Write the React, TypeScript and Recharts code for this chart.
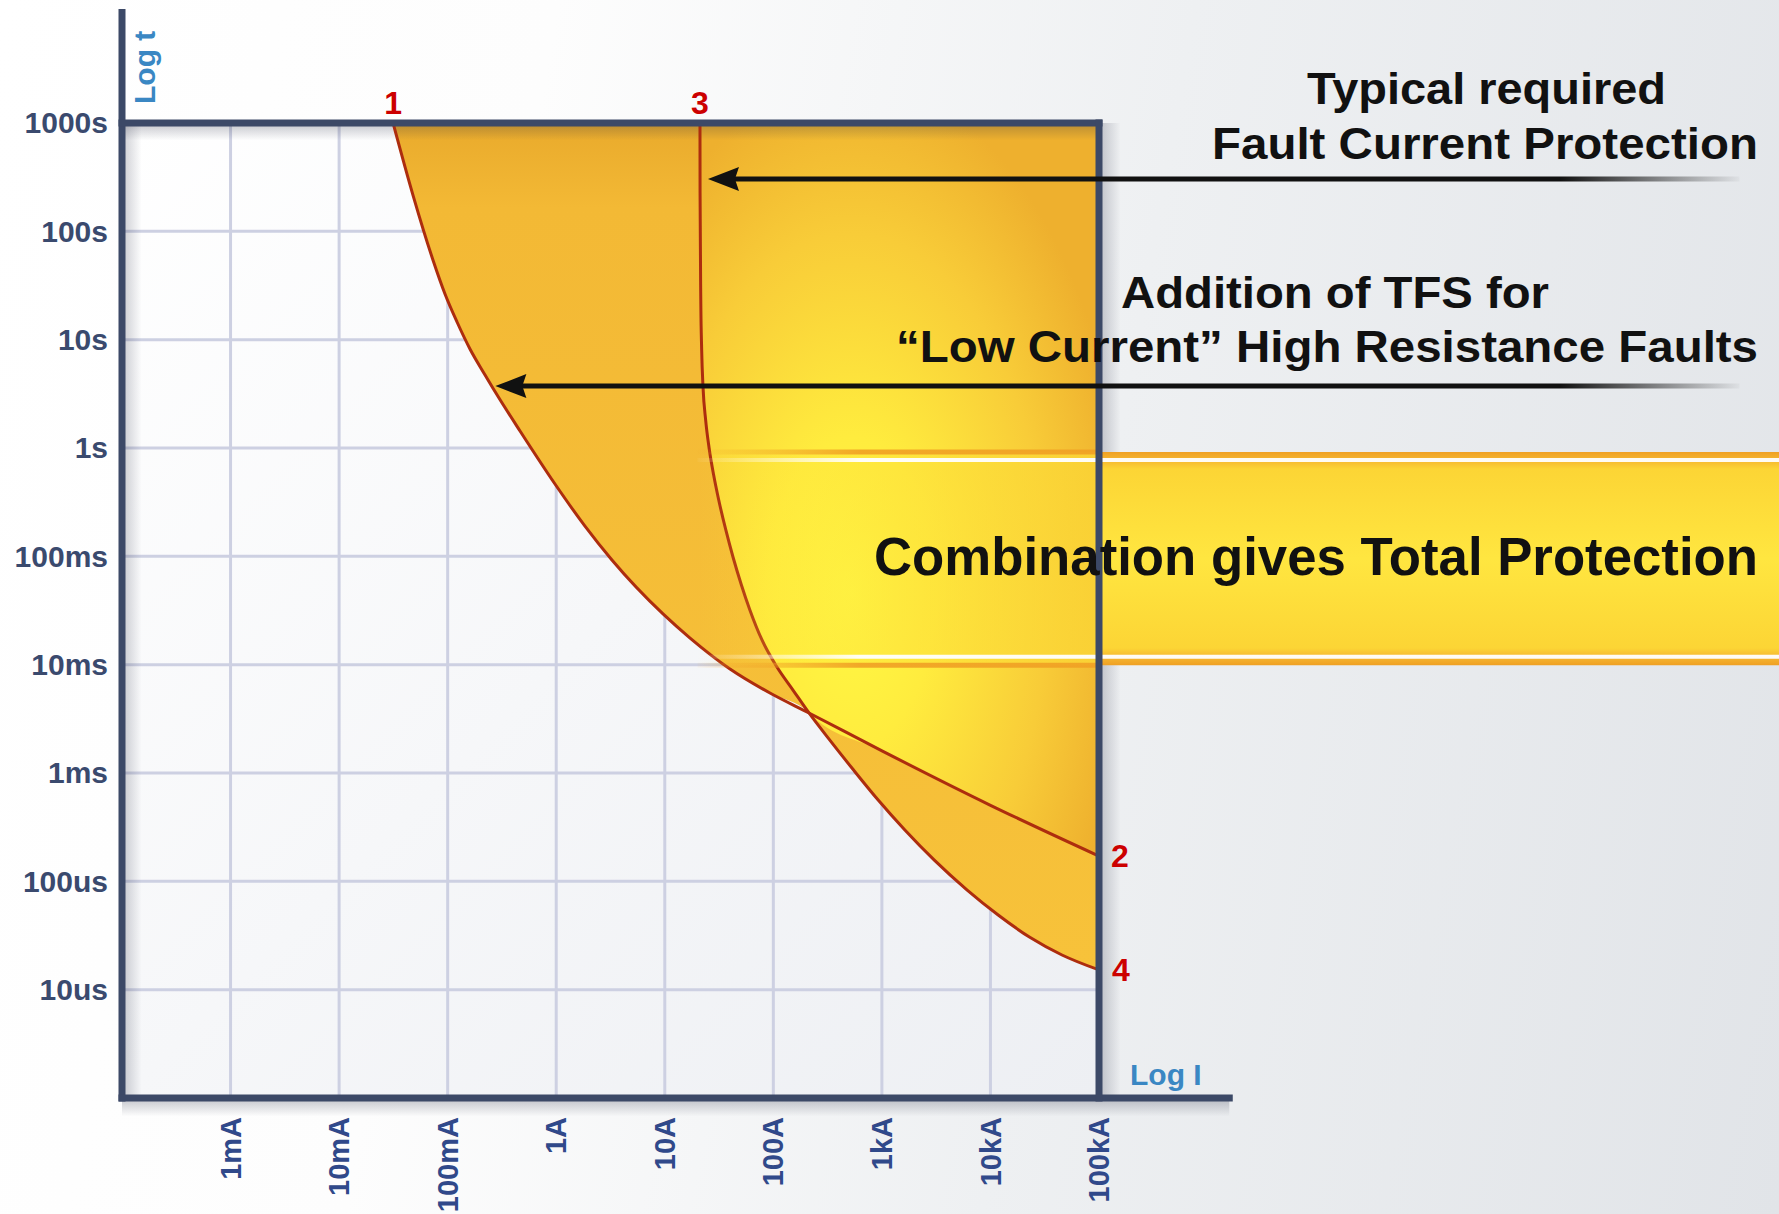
import React from "react";
import {
  ComposedChart,
  Area,
  Line,
  XAxis,
  YAxis,
  ReferenceLine,
  ReferenceArea,
  ReferenceDot,
} from "recharts";

const FONT = "'Liberation Sans', Arial, sans-serif";
const NARROW = "'Liberation Sans Narrow', 'Arial Narrow', 'Liberation Sans', Arial, sans-serif";

// axis ticks (amps / seconds)
const currentTicks = [0.001, 0.01, 0.1, 1, 10, 100, 1000, 10000, 100000];
const currentLabels = ["1mA", "10mA", "100mA", "1A", "10A", "100A", "1kA", "10kA", "100kA"];
const timeTicks = [0.00001, 0.0001, 0.001, 0.01, 0.1, 1, 10, 100, 1000];
const timeLabels = ["10us", "100us", "1ms", "10ms", "100ms", "1s", "10s", "100s", "1000s"];

// the framed grid: 100uA..100kA, 1us..1000s
const boxCurrent = [0.0001, 100000];
const boxTime = [0.000001, 1000];

// curve 1 -> 2 (TFS, low current)
const curve1Current = [
  0.0314, 0.0479, 0.0732, 0.0945, 0.122, 0.1605, 0.221, 0.297, 0.464, 0.974, 1.84, 3.26, 9.63, 17.1, 39.9,
  93.1, 213, 1002, 9900, 100000,
];
const curve1Time = [
  1000, 216, 54.4, 26.4, 14.55, 8.2, 4.72, 2.89, 1.435, 0.465, 0.19, 0.0925, 0.0294, 0.0176, 0.00912, 0.00547,
  0.00358, 0.0016, 0.000506, 0.000171,
];

// curve 3 -> 4 (typical fault current protection)
const curve3Current = [
  21.1, 21.14, 21.46, 21.87, 22.5, 23.8, 25.6, 28.2, 31.4, 36.5, 42.5, 50.8, 60.8, 78.6, 108, 151.7, 213, 330,
  546, 924, 1628, 3040, 6105, 11780, 22840, 45600, 100000,
];
const curve3Time = [
  1000, 226, 23.2, 8.03, 3.66, 1.81, 1.0, 0.563, 0.331, 0.175, 0.0986, 0.0544, 0.032, 0.0169, 0.0095, 0.00583,
  0.00358, 0.00202, 0.00107, 0.000563, 0.000298, 0.000157, 0.0000831, 0.0000489, 0.0000306, 0.0000209,
  0.0000152,
];

const crossingCurrent = 213;

// arrows: tip on the curves
const arrowTipCurrent = [25.0, 0.275];
const arrowTime = [304, 3.73];

// "Combination gives Total Protection" band (seconds)
const bandTime = [0.0099, 0.92];
const bandWhiteLines = [0.0118, 0.774];
const bandStartCurrent = 20;

const L = Math.log10;
const X_DOMAIN = [-4, 11.264];
const Y_DOMAIN = [-6, 4.052];
const AXIS_TOP = 4.02;
const AXIS_RIGHT = 6.2;
const ARROW_TAIL = 10.9;

const toPoints = (cur: number[], time: number[]) =>
  cur.map((c, i) => ({ x: L(c), y: L(time[i]) }));

const c1 = toPoints(curve1Current, curve1Time);
const c3 = toPoints(curve3Current, curve3Time);
const cross = L(crossingCurrent) + 1e-9;
const topT = L(boxTime[1]);

const baseFill = [...c1.filter((p) => p.x <= cross), ...c3.filter((p) => p.x > cross)].map((p) => ({
  x: p.x,
  range: [p.y, topT],
}));
const brightFill = [...c3.filter((p) => p.x <= cross), ...c1.filter((p) => p.x > cross)].map((p) => ({
  x: p.x,
  range: [p.y, topT],
}));

const xL = L(boxCurrent[0]);
const xR = L(boxCurrent[1]);
const yB = L(boxTime[0]);
const yT = L(boxTime[1]);

function CurrentTick(props: any) {
  const { x, y, payload } = props;
  const i = currentTicks.findIndex((c) => Math.abs(L(c) - payload.value) < 1e-6);
  return (
    <text
      x={x}
      y={y}
      transform={`rotate(-90 ${x} ${y})`}
      textAnchor="end"
      dy="0.35em"
      fill="#30498a"
      fontSize={29}
      fontWeight={700}
      fontFamily={FONT}
    >
      {currentLabels[i]}
    </text>
  );
}

function TimeTick(props: any) {
  const { x, y, payload } = props;
  const i = timeTicks.findIndex((t) => Math.abs(L(t) - payload.value) < 1e-6);
  return (
    <text x={x} y={y} textAnchor="end" dy="0.35em" fill="#3a4a6e" fontSize={30} fontWeight={700} fontFamily={FONT}>
      {timeLabels[i]}
    </text>
  );
}

function ArrowHead(props: any) {
  const { cx, cy } = props;
  return (
    <polygon
      points={`${cx},${cy} ${cx + 31},${cy - 12} ${cx + 27},${cy} ${cx + 31},${cy + 12}`}
      fill="#111"
    />
  );
}

const redLabel = (value: string, position: "top" | "right", offset: number) => ({
  value,
  position,
  offset,
  fill: "#cc0000",
  fontSize: 32,
  fontWeight: 700,
  fontFamily: FONT,
});

const AXIS = "#3c4967";
const CURVE = "#ad2d0e";

export default function App() {
  return (
    <div
      style={{
        position: "absolute",
        left: 0,
        top: 0,
        width: 1779,
        height: 1214,
        overflow: "hidden",
        background: "linear-gradient(100deg, #ffffff 0%, #fdfdfd 28%, #eef0f2 60%, #e1e4e8 100%)",
      }}
    >
      <ComposedChart width={1779} height={1214} margin={{ top: 9, right: 0, bottom: 0, left: 0 }}>
        <defs>
          <linearGradient id="plotBg" x1="0" y1="0" x2="1" y2="1">
            <stop offset="0" stopColor="#ffffff" />
            <stop offset="1" stopColor="#edeff3" />
          </linearGradient>
          <linearGradient id="fillBase" x1="0" y1="0" x2="0" y2="1">
            <stop offset="0" stopColor="#e9aa2c" />
            <stop offset="0.1" stopColor="#f3b935" />
            <stop offset="1" stopColor="#f7c23a" />
          </linearGradient>
          <radialGradient id="fillBright" cx="0.38" cy="0.64" r="0.7">
            <stop offset="0" stopColor="#fff944" />
            <stop offset="0.3" stopColor="#ffec3e" />
            <stop offset="0.7" stopColor="#f8cc38" />
            <stop offset="1" stopColor="#eeb02e" />
          </radialGradient>
          <linearGradient id="shadeDown" x1="0" y1="0" x2="0" y2="1">
            <stop offset="0" stopColor="#2a2f45" stopOpacity={0.28} />
            <stop offset="1" stopColor="#2a2f45" stopOpacity={0} />
          </linearGradient>
          <linearGradient id="shadeRight" x1="0" y1="0" x2="1" y2="0">
            <stop offset="0" stopColor="#2a2f45" stopOpacity={0.25} />
            <stop offset="1" stopColor="#2a2f45" stopOpacity={0} />
          </linearGradient>
          <linearGradient id="bandInner" x1="0" y1="0" x2="1" y2="0">
            <stop offset="0" stopColor="#ffe43c" stopOpacity={0} />
            <stop offset="0.5" stopColor="#fde03a" stopOpacity={0.5} />
            <stop offset="1" stopColor="#fcd836" stopOpacity={0.75} />
          </linearGradient>
          <linearGradient id="bandOuter" x1="0" y1="0" x2="0" y2="1">
            <stop offset="0" stopColor="#efa024" />
            <stop offset="0.04" stopColor="#f6b830" />
            <stop offset="0.08" stopColor="#fcd535" />
            <stop offset="0.5" stopColor="#ffe640" />
            <stop offset="0.92" stopColor="#fcd535" />
            <stop offset="0.96" stopColor="#f6b830" />
            <stop offset="1" stopColor="#efa024" />
          </linearGradient>
          <linearGradient id="whiteFade" gradientUnits="userSpaceOnUse" x1="690" y1="0" x2="860" y2="0">
            <stop offset="0" stopColor="#ffffff" stopOpacity={0} />
            <stop offset="1" stopColor="#ffffff" stopOpacity={0.95} />
          </linearGradient>
          <linearGradient id="orangeFade" gradientUnits="userSpaceOnUse" x1="690" y1="0" x2="860" y2="0">
            <stop offset="0" stopColor="#f0a024" stopOpacity={0} />
            <stop offset="1" stopColor="#f0a024" stopOpacity={0.9} />
          </linearGradient>
          <linearGradient id="arrowFade" gradientUnits="userSpaceOnUse" x1="1560" y1="0" x2="1745" y2="0">
            <stop offset="0" stopColor="#111" stopOpacity={1} />
            <stop offset="1" stopColor="#111" stopOpacity={0} />
          </linearGradient>
        </defs>

        <XAxis
          type="number"
          dataKey="x"
          domain={X_DOMAIN}
          allowDataOverflow
          ticks={currentTicks.map(L)}
          interval={0}
          tick={<CurrentTick />}
          axisLine={false}
          tickLine={false}
          tickSize={0}
          tickMargin={19}
          height={116}
        />
        <YAxis
          type="number"
          domain={Y_DOMAIN}
          allowDataOverflow
          ticks={timeTicks.map(L)}
          interval={0}
          tick={<TimeTick />}
          axisLine={false}
          tickLine={false}
          tickSize={0}
          tickMargin={14}
          width={122}
        />

        <ReferenceArea x1={xL} x2={xR} y1={yB} y2={yT} fill="url(#plotBg)" fillOpacity={1} stroke="none" zIndex={-300} />
        {currentTicks.map((c) => (
          <ReferenceLine
            key={"gx" + c}
            segment={[{ x: L(c), y: yB }, { x: L(c), y: yT }]}
            stroke="#cdd0e2"
            strokeWidth={3}
            zIndex={-250}
          />
        ))}
        {timeTicks.map((t) => (
          <ReferenceLine
            key={"gy" + t}
            segment={[{ x: xL, y: L(t) }, { x: xR, y: L(t) }]}
            stroke="#cdd0e2"
            strokeWidth={3}
            zIndex={-250}
          />
        ))}

        <Area
          data={baseFill}
          dataKey="range"
          type="monotone"
          fill="url(#fillBase)"
          fillOpacity={1}
          stroke="none"
          isAnimationActive={false}
          zIndex={100}
        />
        <Area
          data={brightFill}
          dataKey="range"
          type="monotone"
          fill="url(#fillBright)"
          fillOpacity={1}
          stroke="none"
          isAnimationActive={false}
          zIndex={110}
        />

        <ReferenceArea x1={xL} x2={xR} y1={2.84} y2={yT} fill="url(#shadeDown)" fillOpacity={1} stroke="none" ifOverflow="visible" zIndex={150} />
        <ReferenceArea x1={xL} x2={-3.82} y1={yB} y2={yT} fill="url(#shadeRight)" fillOpacity={1} stroke="none" ifOverflow="visible" zIndex={150} />
        <ReferenceArea x1={xR} x2={5.2} y1={yB} y2={yT} fill="url(#shadeRight)" fillOpacity={1} stroke="none" ifOverflow="visible" zIndex={150} />
        <ReferenceArea x1={xL} x2={AXIS_RIGHT} y1={-6.17} y2={yB} fill="url(#shadeDown)" fillOpacity={1} stroke="none" ifOverflow="visible" zIndex={150} />

        <Line data={c1} dataKey="y" type="monotone" stroke={CURVE} strokeWidth={3} dot={false} activeDot={false} isAnimationActive={false} zIndex={400} />
        <Line data={c3} dataKey="y" type="monotone" stroke={CURVE} strokeWidth={3} dot={false} activeDot={false} isAnimationActive={false} zIndex={400} />

        <ReferenceArea x1={L(bandStartCurrent)} x2={xR} y1={L(bandTime[0])} y2={L(bandTime[1])} fill="url(#bandInner)" fillOpacity={1} stroke="none" zIndex={450} />
        <ReferenceArea x1={xR} x2={X_DOMAIN[1]} y1={L(bandTime[0])} y2={L(bandTime[1])} fill="url(#bandOuter)" fillOpacity={1} stroke="none" zIndex={450} />
        {bandTime.map((t) => (
          <ReferenceLine
            key={"bo" + t}
            segment={[{ x: L(bandStartCurrent), y: L(t) }, { x: xR, y: L(t) }]}
            stroke="url(#orangeFade)"
            strokeWidth={5}
            zIndex={455}
          />
        ))}
        {bandWhiteLines.map((t) => (
          <ReferenceLine
            key={"bw" + t}
            segment={[{ x: L(bandStartCurrent), y: L(t) }, { x: X_DOMAIN[1], y: L(t) }]}
            stroke="url(#whiteFade)"
            strokeWidth={4}
            zIndex={460}
          />
        ))}

        <ReferenceLine segment={[{ x: xL, y: yB }, { x: xL, y: AXIS_TOP }]} stroke={AXIS} strokeWidth={7} strokeLinecap="square" zIndex={500} />
        <ReferenceLine segment={[{ x: xL, y: yB }, { x: AXIS_RIGHT, y: yB }]} stroke={AXIS} strokeWidth={7} strokeLinecap="square" zIndex={500} />
        <ReferenceLine segment={[{ x: xL, y: yT }, { x: xR, y: yT }]} stroke={AXIS} strokeWidth={7} strokeLinecap="square" zIndex={500} />
        <ReferenceLine segment={[{ x: xR, y: yB }, { x: xR, y: yT }]} stroke={AXIS} strokeWidth={7} strokeLinecap="square" zIndex={500} />

        {arrowTipCurrent.map((c, i) => (
          <ReferenceLine
            key={"as" + i}
            segment={[{ x: L(c) + 0.15, y: L(arrowTime[i]) }, { x: ARROW_TAIL, y: L(arrowTime[i]) }]}
            stroke="url(#arrowFade)"
            strokeWidth={5}
            zIndex={600}
          />
        ))}
        {arrowTipCurrent.map((c, i) => (
          <ReferenceDot key={"ah" + i} x={L(c)} y={L(arrowTime[i])} r={0} shape={<ArrowHead />} zIndex={610} />
        ))}

        <ReferenceDot x={c1[0].x} y={c1[0].y} r={0} fill="none" stroke="none" label={redLabel("1", "top", 9)} />
        <ReferenceDot x={c3[0].x} y={c3[0].y} r={0} fill="none" stroke="none" label={redLabel("3", "top", 9)} />
        <ReferenceDot x={c1[c1.length - 1].x} y={c1[c1.length - 1].y} r={0} fill="none" stroke="none" label={redLabel("2", "right", 12)} />
        <ReferenceDot x={c3[c3.length - 1].x} y={c3[c3.length - 1].y} r={0} fill="none" stroke="none" label={redLabel("4", "right", 13)} />
      </ComposedChart>

      <svg width={1779} height={1214} style={{ position: "absolute", left: 0, top: 0, pointerEvents: "none" }}>
        <g fontFamily={NARROW} fontWeight={700} fill="#111">
          <text x={1307} y={104} fontSize={45} textLength={359} lengthAdjust="spacingAndGlyphs">
            Typical required
          </text>
          <text x={1212} y={159} fontSize={45} textLength={546} lengthAdjust="spacingAndGlyphs">
            Fault Current Protection
          </text>
          <text x={1121} y={308} fontSize={45} textLength={428} lengthAdjust="spacingAndGlyphs">
            Addition of TFS for
          </text>
          <text x={896} y={362} fontSize={45} textLength={862} lengthAdjust="spacingAndGlyphs">
            “Low Current” High Resistance Faults
          </text>
          <text x={874} y={575} fontSize={53} textLength={884} lengthAdjust="spacingAndGlyphs">
            Combination gives Total Protection
          </text>
        </g>
        <g fontFamily={FONT} fontWeight={700} fill="#3a87c3" fontSize={30}>
          <text x={155} y={104} transform="rotate(-90 155 104)">
            Log t
          </text>
          <text x={1130} y={1085}>Log I</text>
        </g>
      </svg>
    </div>
  );
}
